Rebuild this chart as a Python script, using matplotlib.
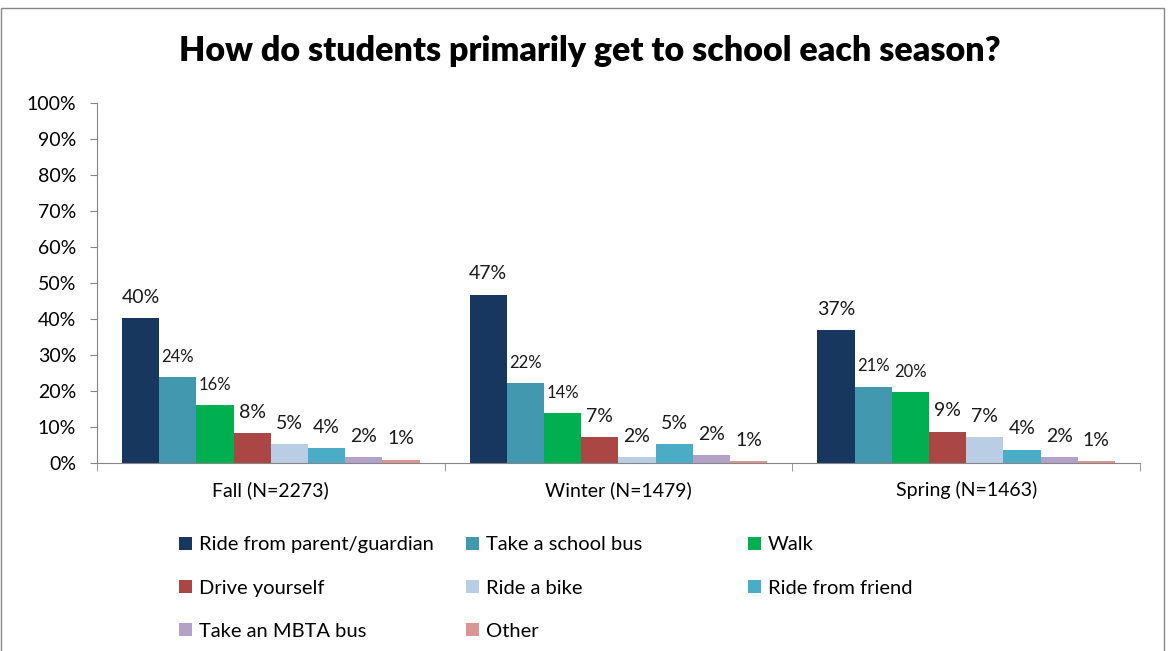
import numpy as np
import matplotlib
matplotlib.use("Agg")
import matplotlib.pyplot as plt
from matplotlib.patches import Rectangle

plt.rcParams['font.family'] = ['Lato', 'DejaVu Sans']

# data
seasons = ["Fall (N=2273)", "Winter (N=1479)", "Spring (N=1463)"]
modes = ["Ride from parent/guardian", "Take a school bus", "Walk",
         "Drive yourself", "Ride a bike", "Ride from friend",
         "Take an MBTA bus", "Other"]
values = {
    "Ride from parent/guardian": [40.2, 46.7, 36.8],
    "Take a school bus": [23.8, 22.2, 21.2],
    "Walk": [16.0, 13.9, 19.6],
    "Drive yourself": [8.2, 7.2, 8.7],
    "Ride a bike": [5.3, 1.5, 7.1],
    "Ride from friend": [4.0, 5.3, 3.7],
    "Take an MBTA bus": [1.6, 2.2, 1.5],
    "Other": [0.9, 0.5, 0.5],
}
labels = {
    "Ride from parent/guardian": ["40%", "47%", "37%"],
    "Take a school bus": ["24%", "22%", "21%"],
    "Walk": ["16%", "14%", "20%"],
    "Drive yourself": ["8%", "7%", "9%"],
    "Ride a bike": ["5%", "2%", "7%"],
    "Ride from friend": ["4%", "5%", "4%"],
    "Take an MBTA bus": ["2%", "2%", "2%"],
    "Other": ["1%", "1%", "1%"],
}
colors = ["#17375E", "#4198AF", "#00B050", "#AA4643",
          "#B9CDE5", "#4BACC6", "#B3A2C7", "#D99694"]

fig = plt.figure(figsize=(11.68, 6.51), dpi=100)
ax = fig.add_axes([0.083, 0.289, 0.893, 0.553])

x = np.arange(len(seasons))
bw = 0.107
n = len(modes)
handles = []
for i, m in enumerate(modes):
    pos = x - bw * n / 2 + bw * (i + 0.5)
    b = ax.bar(pos, values[m], width=bw, color=colors[i], label=m)
    handles.append(b)
    small = i in (1, 2)
    for px, v, t in zip(pos, values[m], labels[m]):
        ax.text(px, v + 3.4, t, ha='center', va='bottom',
                fontsize=12 if small else 14, color='#1a1a1a')

ax.set_xlim(-0.5, len(seasons) - 0.5)
ax.set_ylim(0, 100)
ax.set_yticks(np.arange(0, 101, 10))
ax.set_yticklabels([f"{v}%" for v in range(0, 101, 10)], fontsize=14)
ax.set_xticks(x)
ax.set_xticklabels(seasons, fontsize=14)
ax.set_xticks(np.arange(-0.5, len(seasons), 1), minor=True)
ax.tick_params(axis='x', which='major', length=0, pad=13)
ax.tick_params(axis='x', which='minor', length=6, color='#868686', direction='out')
ax.tick_params(axis='y', length=5, color='#868686', direction='out', pad=10)
for s in ('top', 'right'):
    ax.spines[s].set_visible(False)
for s in ('left', 'bottom'):
    ax.spines[s].set_color('#868686')

fig.text(0.505, 0.922, "How do students primarily get to school each season?",
         ha='center', va='center', fontsize=24.5, fontweight='heavy')

# legend: three fixed columns, filled row by row
col_x = [0.153, 0.399, 0.640]
for c in range(3):
    idx = list(range(c, n, 3))
    fig.legend(handles=[handles[k] for k in idx], labels=[modes[k] for k in idx],
               loc='upper left', bbox_to_anchor=(col_x[c], 0.176),
               frameon=False, fontsize=14.5, handlelength=0.65,
               handleheight=0.65, handletextpad=0.35, labelspacing=1.3,
               borderaxespad=0, borderpad=0)

fig.patches.append(Rectangle((0.001, -0.01), 0.996, 0.997, transform=fig.transFigure,
                             fill=False, edgecolor='#868686', linewidth=1))

fig.savefig("out.png", dpi=100)
